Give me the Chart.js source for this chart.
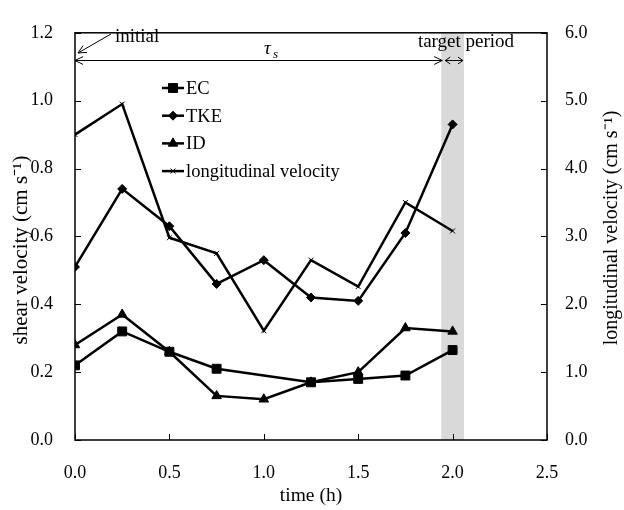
<!DOCTYPE html>
<html><head><meta charset="utf-8">
<script src="https://cdn.jsdelivr.net/npm/chart.js@4/dist/chart.umd.min.js"></script>
<style>html,body{margin:0;padding:0;background:#fff}</style>
</head><body>
<canvas id="c" width="624" height="510"></canvas>
<script>
const times = [0, 0.25, 0.5, 0.75, 1.0, 1.25, 1.5, 1.75, 2.0];
const ecValues = [0.22, 0.32, 0.26, 0.21, null, 0.17, 0.18, 0.19, 0.265];
const tkeValues = [0.51, 0.74, 0.63, 0.46, 0.53, 0.42, 0.41, 0.61, 0.93];
const idValues = [0.28, 0.37, 0.26, 0.13, 0.12, 0.17, 0.20, 0.33, 0.32];
const longVelocity = [4.5, 4.95, 2.98, 2.75, 1.61, 2.65, 2.26, 3.5, 3.08];
const seriesNames = ['EC', 'TKE', 'ID', 'longitudinal velocity'];
const targetPeriod = [1.94, 2.06];
const xTitle = 'time (h)';
const yTitle = 'shear velocity (cm s\u207B\u00B9)';
const y2Title = 'longitudinal velocity (cm s\u207B\u00B9)';

const FONT = "'Liberation Serif', 'Times New Roman', serif";
const pts = arr => times.map((t, i) => ({x: t, y: arr[i]}));

const styles = [
  {pointStyle: 'rect', pointRadius: 6.3, yAxisID: 'y'},
  {pointStyle: 'rectRot', pointRadius: 4.5, yAxisID: 'y'},
  {pointStyle: 'triangle', pointRadius: 5.5, yAxisID: 'y'},
  {pointStyle: 'crossRot', pointRadius: 3.5, yAxisID: 'y2', pointBorderWidth: 1}
];
const values = [ecValues, tkeValues, idValues, longVelocity];

const datasets = values.map((v, i) => Object.assign({
  label: seriesNames[i],
  data: pts(v),
  borderColor: '#000',
  backgroundColor: '#000',
  pointBackgroundColor: '#000',
  pointBorderColor: '#000',
  pointBorderWidth: 1,
  borderWidth: 2.5,
  spanGaps: true,
  tension: 0
}, styles[i]));

function arrowHead(ctx, tx, ty, fx, fy, len, ang) {
  const a = Math.atan2(ty - fy, tx - fx);
  ctx.beginPath();
  ctx.moveTo(tx - len * Math.cos(a - ang), ty - len * Math.sin(a - ang));
  ctx.lineTo(tx, ty);
  ctx.lineTo(tx - len * Math.cos(a + ang), ty - len * Math.sin(a + ang));
  ctx.stroke();
}

const decor = {
  id: 'decor',
  beforeDatasetsDraw(chart) {
    const {ctx, chartArea: ca, scales} = chart;
    const x0 = scales.x.getPixelForValue(targetPeriod[0]);
    const x1 = scales.x.getPixelForValue(targetPeriod[1]);
    ctx.save();
    ctx.fillStyle = '#d9d9d9';
    ctx.fillRect(x0, ca.top, x1 - x0, ca.bottom - ca.top);
    ctx.restore();
  },
  afterDraw(chart) {
    const {ctx, chartArea: ca, scales} = chart;
    ctx.save();
    ctx.strokeStyle = '#000';
    ctx.lineWidth = 1.5;
    ctx.strokeRect(ca.left, ca.top, ca.right - ca.left, ca.bottom - ca.top);
    // inside ticks
    ctx.lineWidth = 1;
    ctx.beginPath();
    scales.x.ticks.forEach(t => {
      const px = Math.round(scales.x.getPixelForValue(t.value)) + 0.5;
      ctx.moveTo(px, ca.bottom); ctx.lineTo(px, ca.bottom - 6);
    });
    scales.y.ticks.forEach(t => {
      const py = Math.round(scales.y.getPixelForValue(t.value)) + 0.5;
      ctx.moveTo(ca.left, py); ctx.lineTo(ca.left + 6, py);
    });
    scales.y2.ticks.forEach(t => {
      const py = Math.round(scales.y2.getPixelForValue(t.value)) + 0.5;
      ctx.moveTo(ca.right, py); ctx.lineTo(ca.right - 6, py);
    });
    ctx.stroke();

    // axis titles
    ctx.fillStyle = '#000';
    ctx.font = '19.5px ' + FONT;
    ctx.textAlign = 'center';
    ctx.textBaseline = 'middle';
    ctx.fillText(xTitle, (ca.left + ca.right) / 2, 496);
    ctx.font = '21px ' + FONT;
    ctx.save();
    ctx.translate(21, 250);
    ctx.rotate(-Math.PI / 2);
    ctx.fillText(yTitle, 0, 0);
    ctx.restore();
    ctx.font = '20px ' + FONT;
    ctx.save();
    ctx.translate(612, 228);
    ctx.rotate(-Math.PI / 2);
    ctx.fillText(y2Title, 0, 0);
    ctx.restore();

    // legend
    const lx0 = 162, lx1 = 184, ly0 = 88, ldy = 27.7;
    chart.data.datasets.forEach((ds, i) => {
      const y = ly0 + i * ldy;
      ctx.strokeStyle = '#000';
      ctx.lineWidth = 2.5;
      ctx.beginPath(); ctx.moveTo(lx0, y); ctx.lineTo(lx1, y); ctx.stroke();
      ctx.fillStyle = '#000';
      ctx.lineWidth = ds.pointBorderWidth || 1;
      Chart.helpers.drawPoint(ctx, {pointStyle: ds.pointStyle, radius: ds.pointRadius, rotation: 0, borderWidth: ds.pointBorderWidth || 1}, (lx0 + lx1) / 2, y);
      ctx.fillStyle = '#000';
      ctx.font = '18.5px ' + FONT;
      ctx.textAlign = 'left';
      ctx.textBaseline = 'middle';
      ctx.fillText(ds.label, lx1 + 2, y + 1);
    });

    // annotations
    ctx.strokeStyle = '#000';
    ctx.lineWidth = 1;
    const ay = 60.5;
    const xa = scales.x.getPixelForValue(0);
    const xb = scales.x.getPixelForValue(targetPeriod[0]) + 1;
    ctx.beginPath(); ctx.moveTo(xa, ay); ctx.lineTo(xb, ay); ctx.stroke();
    arrowHead(ctx, xa, ay, xb, ay, 9, 0.45);
    arrowHead(ctx, xb, ay, xa, ay, 9, 0.45);
    const xc = xb + 3, xd = scales.x.getPixelForValue(targetPeriod[1]) - 1;
    ctx.beginPath(); ctx.moveTo(xc, ay); ctx.lineTo(xd, ay); ctx.stroke();
    arrowHead(ctx, xc, ay, xd, ay, 6, 0.6);
    arrowHead(ctx, xd, ay, xc, ay, 6, 0.6);
    // initial arrow
    ctx.beginPath(); ctx.moveTo(111, 34); ctx.lineTo(78, 53); ctx.stroke();
    arrowHead(ctx, 78, 53, 111, 34, 9, 0.45);

    ctx.fillStyle = '#000';
    ctx.textAlign = 'left';
    ctx.textBaseline = 'middle';
    ctx.font = '19px ' + FONT;
    ctx.fillText('initial', 115, 37);
    ctx.textAlign = 'center';
    ctx.fillText('target period', 466, 42);
    ctx.textAlign = 'left';
    ctx.font = 'italic 19px ' + FONT;
    ctx.fillText('\u03C4', 264, 49);
    ctx.font = 'italic 13px ' + FONT;
    ctx.fillText('s', 273, 55);
    ctx.restore();
  }
};

new Chart(document.getElementById('c'), {
  type: 'line',
  data: {datasets},
  options: {
    responsive: false,
    animation: false,
    layout: {padding: {top: 20, left: 0, right: 0, bottom: 0}},
    plugins: {legend: {display: false}, tooltip: {enabled: false}},
    scales: {
      x: {
        type: 'linear', min: 0, max: 2.5,
        ticks: {stepSize: 0.5, padding: 22, color: '#000', font: {family: FONT, size: 18}, callback: v => v.toFixed(1), maxRotation: 0},
        grid: {display: false, drawTicks: false},
        border: {display: false},
        afterFit: s => { s.height = 70; }
      },
      y: {
        position: 'left', min: 0, max: 1.2,
        ticks: {stepSize: 0.2, padding: 22, color: '#000', font: {family: FONT, size: 18}, callback: v => v.toFixed(1)},
        grid: {display: false, drawTicks: false},
        border: {display: false},
        afterFit: s => { s.width = 75; }
      },
      y2: {
        position: 'right', min: 0, max: 6,
        ticks: {stepSize: 1, padding: 18, color: '#000', font: {family: FONT, size: 18}, callback: v => v.toFixed(1)},
        grid: {display: false, drawTicks: false},
        border: {display: false},
        afterFit: s => { s.width = 77; }
      }
    }
  },
  plugins: [decor]
});
</script>
</body></html>
